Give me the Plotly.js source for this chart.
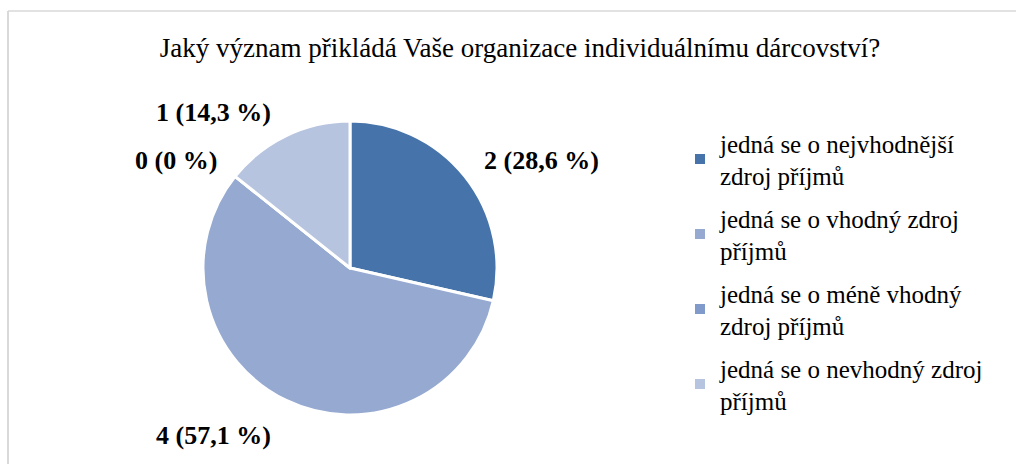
<!DOCTYPE html>
<html>
<head>
<meta charset="utf-8">
<script src="https://cdn.plot.ly/plotly-3.0.1.min.js"></script>
<style>html,body{margin:0;padding:0;background:#fff;}#chart{width:1016px;height:464px;}</style>
</head>
<body>
<div id="chart"></div>
<script>
const categories = [
  "jedná se o nejvhodnější<br>zdroj příjmů",
  "jedná se o vhodný zdroj<br>příjmů",
  "jedná se o méně vhodný<br>zdroj příjmů",
  "jedná se o nevhodný zdroj<br>příjmů"
];
const counts = [2, 4, 0, 1];
const percentLabels = ["28,6 %", "57,1 %", "0 %", "14,3 %"];
const colors = ["#4673A9", "#95A9D1", "#7F9ACB", "#B7C4DF"];
const titleText = "Jaký význam přikládá Vaše organizace individuálnímu dárcovství?";

const FONT = "Liberation Serif";
const W = 1016, H = 464;
const cx = 350, cy = 268, r = 147;

const pie = {
  type: "pie",
  labels: categories,
  values: counts,
  sort: false,
  direction: "clockwise",
  rotation: 0,
  marker: { colors: colors, line: { color: "#ffffff", width: 3 } },
  textinfo: "none",
  hoverinfo: "label+value+percent",
  domain: { x: [(cx - r) / W, (cx + r) / W], y: [(H - cy - r) / H, (H - cy + r) / H] },
  showlegend: false
};

// legend entries (one per category) so that item spacing can match
const legendTraces = categories.map((c, i) => ({
  type: "scatter", mode: "markers",
  x: [null], y: [null],
  name: c,
  legendgroup: "g" + i,
  marker: { symbol: "square", size: 10, color: colors[i] },
  hoverinfo: "skip"
}));

const labelPos = [[541, 160], [213, 435], [176, 160], [213, 112]];
const annotations = counts.map((c, i) => ({
  xref: "paper", yref: "paper",
  x: labelPos[i][0] / W, y: 1 - labelPos[i][1] / H,
  xanchor: "center", yanchor: "middle",
  showarrow: false,
  text: "<b>" + c + " (" + percentLabels[i] + ")</b>",
  font: { family: FONT, size: 26, color: "#000" }
}));

const layout = {
  width: W, height: H,
  margin: { l: 0, r: 0, t: 0, b: 0 },
  paper_bgcolor: "#ffffff",
  plot_bgcolor: "rgba(0,0,0,0)",
  font: { family: FONT },
  xaxis: { visible: false, domain: [0.99, 1] },
  yaxis: { visible: false, domain: [0.99, 1] },
  title: {
    text: titleText,
    x: 520 / W, xanchor: "center", y: 1 - 48 / H, yanchor: "middle",
    font: { family: FONT, size: 27, color: "#000" }
  },
  legend: {
    x: 680 / W, xanchor: "left", y: 1 - 120 / H, yanchor: "top",
    font: { family: FONT, size: 25, color: "#000" },
    bgcolor: "rgba(0,0,0,0)",
    tracegroupgap: 7,
    traceorder: "grouped"
  },
  annotations: annotations,
  shapes: [
    { type: "line", xref: "paper", yref: "paper", x0: 8 / W, x1: 8 / W, y0: 0, y1: 1 - 11 / H, line: { color: "#d9d9d9", width: 2 } },
    { type: "line", xref: "paper", yref: "paper", x0: 8 / W, x1: 1, y0: 1 - 11 / H, y1: 1 - 11 / H, line: { color: "#d9d9d9", width: 1.5 } }
  ]
};

Plotly.newPlot("chart", [pie].concat(legendTraces), layout, { displayModeBar: false, staticPlot: true });
</script>
</body>
</html>
